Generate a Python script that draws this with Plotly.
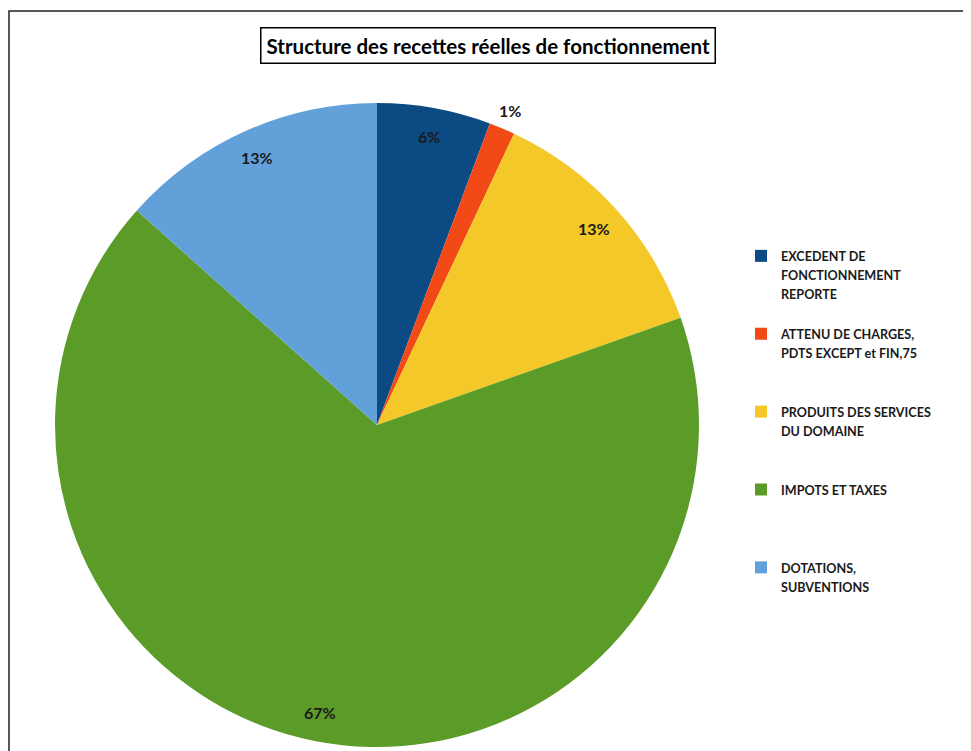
import math
import plotly.graph_objects as go

# ---- data ----
categories = [
    "EXCEDENT DE<br>FONCTIONNEMENT<br>REPORTE",
    "ATTENU DE CHARGES,<br>PDTS EXCEPT et FIN,75",
    "PRODUITS DES SERVICES<br>DU DOMAINE",
    "IMPOTS ET TAXES",
    "DOTATIONS,<br>SUBVENTIONS",
]
values = [5.7, 1.3, 12.6, 67.0, 13.4]
colors = ["#0C4A84", "#F24A17", "#F3C828", "#5B9B27", "#62A0DA"]
title_text = "Structure des recettes réelles de fonctionnement"

# page body has an 8px margin: figure fills the rest of the 971x751 window
OFF = 8
W, H = 971 - OFF, 751 - OFF
FONT = "Lato"

# pie geometry (window pixels)
cx, cy, R = 377, 425, 322


def px_x(x):
    return (x - OFF) / W


def px_y(y):
    return 1 - (y - OFF) / H


# legend names, padded to equal number of lines for even spacing
def legend_name(lbl, n_lines=4):
    parts = lbl.split("<br>")
    parts = ["<span style='font-size:12.6px'><b>%s</b></span>" % p for p in parts]
    while len(parts) < n_lines:
        parts.append(" ")
    return "<br>".join(parts)


names = [legend_name(c) for c in categories]

fig = go.Figure()
fig.add_trace(go.Pie(
    labels=names,
    values=values,
    sort=False,
    direction="clockwise",
    rotation=0,
    marker=dict(colors=colors, line=dict(width=0)),
    textinfo="none",
    hoverinfo="label+percent",
    domain=dict(x=[px_x(cx - R), px_x(cx + R)], y=[px_y(cy + R), px_y(cy - R)]),
))

# percentage labels computed from values
total = sum(values)
annotations = []
cum = 0.0
for v in values:
    frac = v / total
    mid = (cum + frac / 2) * 2 * math.pi
    cum += frac
    f = 1.06 if frac < 0.02 else 0.91
    x = cx + R * f * math.sin(mid)
    y = cy - R * f * math.cos(mid)
    annotations.append(dict(
        x=px_x(x), y=px_y(y), xref="paper", yref="paper",
        text="<b>%d%%</b>" % round(frac * 100), showarrow=False,
        font=dict(family=FONT, size=16, color="#1a1a1a"),
        xanchor="center", yanchor="middle",
    ))

annotations.append(dict(
    x=px_x(488), y=px_y(46), xref="paper", yref="paper",
    text="<b>%s</b>" % title_text, showarrow=False,
    font=dict(family=FONT, size=20.5, color="#000000"),
    bordercolor="#000000", borderwidth=1.5, borderpad=5,
    bgcolor="#ffffff", xanchor="center", yanchor="middle",
))

fig.update_layout(
    width=W, height=H,
    margin=dict(l=0, r=0, t=0, b=0),
    paper_bgcolor="#ffffff",
    plot_bgcolor="#ffffff",
    font=dict(family=FONT, color="#1a1a1a"),
    annotations=annotations,
    legend=dict(
        x=px_x(741), y=px_y(240), xanchor="left", yanchor="top",
        font=dict(family=FONT, size=14.4, color="#1a1a1a"),
        valign="top", bgcolor="rgba(0,0,0,0)",
    ),
    shapes=[dict(
        type="rect", xref="paper", yref="paper",
        x0=px_x(9), x1=1.05, y0=-0.05, y1=px_y(11),
        line=dict(color="#222222", width=1.5),
    )],
)

fig.write_html("out.html")
